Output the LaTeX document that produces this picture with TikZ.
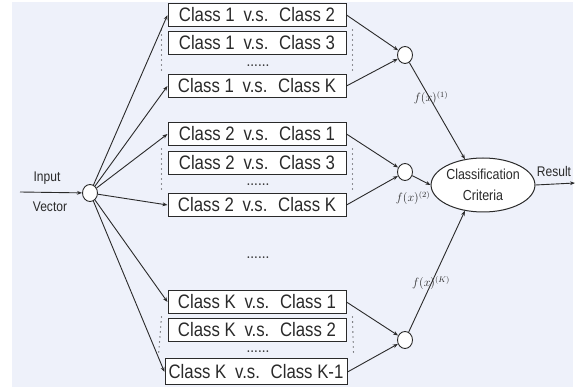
\documentclass[tikz,border=0pt]{standalone}
\usepackage{fontspec}
\newfontfamily\nar[FakeStretch=0.86]{Liberation Sans}
\usetikzlibrary{arrows.meta,shapes.geometric}
\definecolor{bgc}{HTML}{EEF1FA}
\definecolor{ink}{HTML}{2A2A2A}
\tikzset{
  cbox/.style={draw=ink,line width=1pt,fill=white,minimum width=178pt,minimum height=23pt,inner sep=0pt,
    font=\nar\fontsize{19.5}{20}\selectfont,text=ink},
  smallcirc/.style={draw=ink,line width=0.9pt,ellipse,minimum width=15pt,minimum height=17pt,inner sep=0pt,fill=white},
  crit/.style={draw=ink,line width=1pt,ellipse,minimum width=95pt,minimum height=54pt,inner sep=0pt,fill=white,align=center,
    font=\nar\fontsize{14.5}{21}\selectfont,text=ink},
  conn/.style={draw=ink,line width=0.9pt,-{Stealth[length=5pt,width=3.8pt]}},
  vdots/.style={draw=ink,line width=1.3pt,line cap=round,dash pattern=on 0pt off 5pt},
  lbl/.style={font=\nar\fontsize{14}{15}\selectfont,text=ink,inner sep=0pt},
  flbl/.style={font=\fontsize{11.5}{13}\selectfont,text=ink,inner sep=0pt},
  hdots/.style={font=\bfseries\fontsize{12}{12}\selectfont,inner sep=0pt,text=ink},
}
\newcommand{\vs}[2]{Class #1\hspace{0.45em}v.s.\hspace{0.55em}Class #2}
\begin{document}
\begin{tikzpicture}[x=1pt,y=-1pt]
\useasboundingbox (0,0) rectangle (576,387);
\fill[bgc] (12,2) rectangle (573,387);
% boxes
\node[cbox] (b11) at (257,15) {\vs{1}{2}};
\node[cbox] (b12) at (257,43) {\vs{1}{3}};
\node[hdots] (d1) at (258,66) {......};
\node[cbox] (b13) at (257,86) {\vs{1}{K}};
\node[cbox] (b21) at (257,134) {\vs{2}{1}};
\node[cbox] (b22) at (257,163) {\vs{2}{3}};
\node[hdots] (d2) at (258,185) {......};
\node[cbox] (b23) at (257,205) {\vs{2}{K}};
\node[hdots] (dm) at (258,258) {......};
\node[cbox] (b31) at (257,302) {\vs{K}{1}};
\node[cbox] (b32) at (257,330) {\vs{K}{2}};
\node[hdots] (d3) at (258,352) {......};
\node[cbox,minimum width=182pt,minimum height=26pt] (b33) at (256,372) {\vs{K}{K-1}};
% vertical dotted lines
\foreach \a/\b in {b11/b13,b21/b23,b31/b33}{
  \draw[vdots] ([xshift=-6pt,yshift=-3pt]\a.south west) -- ([xshift=-6pt,yshift=3pt]\b.north west |- \b.north);
  \draw[vdots] ([xshift=6pt,yshift=-3pt]\a.south east) -- ([xshift=6pt,yshift=3pt]\b.north east |- \b.north);
}
% input circle
\node[smallcirc] (in) at (90,193) {};
\coordinate (src) at (20,192);
\draw[conn] (src) -- (in);
\node[lbl] (linput) at (47,178) {Input};
\node[lbl] (lvector) at (50,207) {Vector};
\foreach \b in {b11,b13,b21,b23,b31,b33}{
  \draw[conn] (in) -- (\b.west);
}
% right circles
\node[smallcirc] (c1) at (405,55) {};
\node[smallcirc] (c2) at (405,172) {};
\node[smallcirc] (c3) at (405,340) {};
\draw[conn] (b11.east) -- (c1);
\draw[conn] (b13.east) -- (c1);
\draw[conn] (b21.east) -- (c2);
\draw[conn] (b23.east) -- (c2);
\draw[conn] (b31.east) -- (c3);
\draw[conn] (b33.east) -- (c3);
% criteria
\node[crit] (cc) at (483,185) {Classification\\Criteria};
\draw[conn] (c1) -- (cc.125);
\draw[conn] (c2) -- (cc.west);
\draw[conn] (c3) -- (cc.235);
\node[flbl] (f1) at (431,98) {$f(x)^{(1)}$};
\node[flbl] (f2) at (413,198) {$f(x)^{(2)}$};
\node[flbl] (f3) at (431,283) {$f(x)^{(K)}$};
\coordinate (res) at (575,183);
\draw[conn] (cc.east) -- (res);
\node[lbl] (lres) at (554,171) {Result};
\end{tikzpicture}
\end{document}
